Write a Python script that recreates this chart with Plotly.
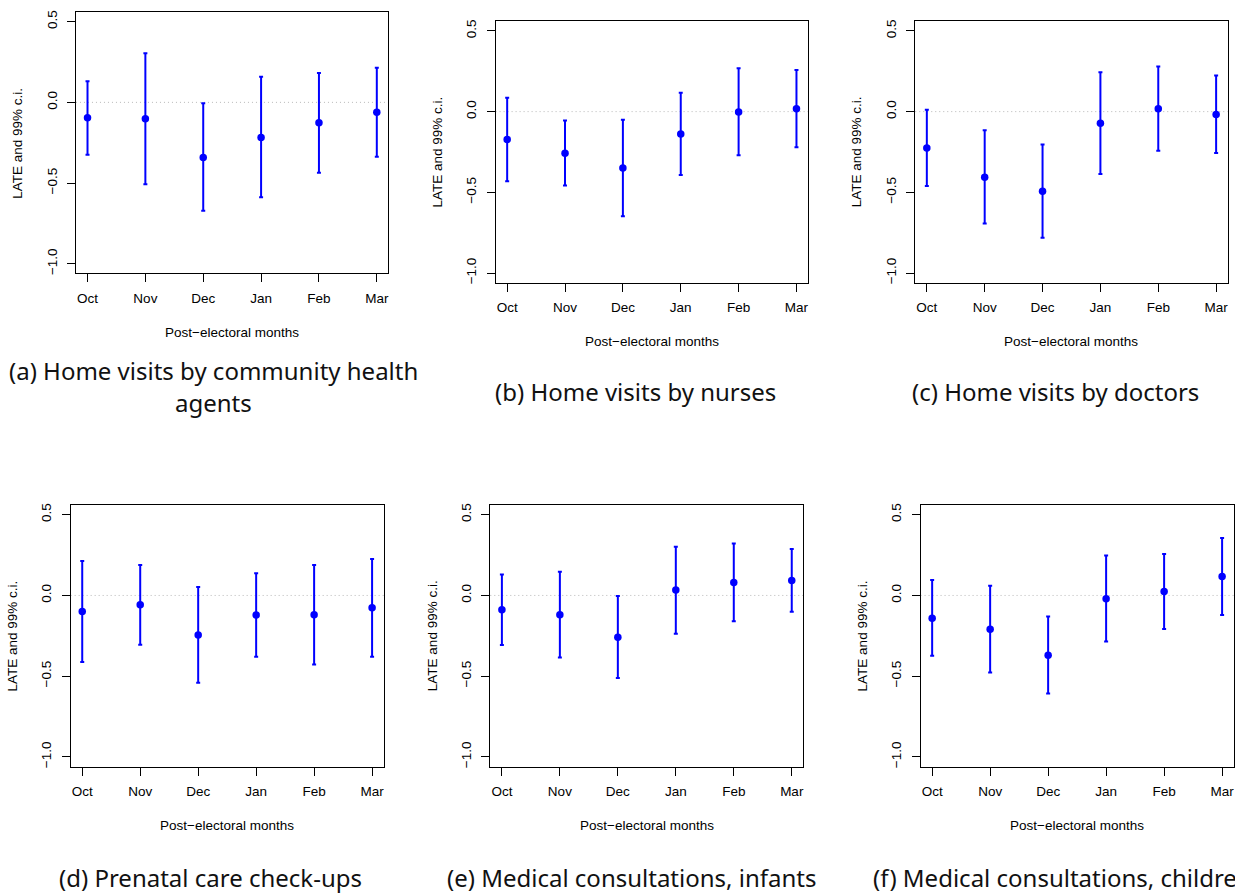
import plotly.graph_objects as go

# Post-electoral months on the horizontal axis
months = ["Oct", "Nov", "Dec", "Jan", "Feb", "Mar"]

# LATE point estimates with lower / upper bounds of the 99% confidence interval
late_a = [-0.096, -0.102, -0.341, -0.217, -0.127, -0.061]
low_a = [-0.325, -0.507, -0.672, -0.587, -0.436, -0.337]
high_a = [0.131, 0.305, -0.006, 0.158, 0.182, 0.215]

late_b = [-0.172, -0.258, -0.350, -0.139, -0.002, 0.018]
low_b = [-0.432, -0.457, -0.648, -0.393, -0.270, -0.221]
high_b = [0.086, -0.055, -0.051, 0.117, 0.268, 0.258]

late_c = [-0.225, -0.406, -0.494, -0.072, 0.018, -0.018]
low_c = [-0.461, -0.693, -0.781, -0.387, -0.242, -0.256]
high_c = [0.012, -0.115, -0.203, 0.244, 0.279, 0.223]

late_d = [-0.099, -0.058, -0.245, -0.121, -0.119, -0.076]
low_d = [-0.412, -0.305, -0.541, -0.379, -0.428, -0.379]
high_d = [0.214, 0.189, 0.053, 0.138, 0.189, 0.226]

late_e = [-0.088, -0.119, -0.259, 0.033, 0.080, 0.093]
low_e = [-0.307, -0.385, -0.512, -0.237, -0.160, -0.101]
high_e = [0.130, 0.146, -0.004, 0.302, 0.321, 0.288]

late_f = [-0.142, -0.210, -0.370, -0.021, 0.025, 0.117]
low_f = [-0.374, -0.477, -0.607, -0.286, -0.208, -0.121]
high_f = [0.095, 0.060, -0.130, 0.247, 0.257, 0.356]

captions = [
    ["(a) Home visits by community health", "agents"],
    ["(b) Home visits by nurses"],
    ["(c) Home visits by doctors"],
    ["(d) Prenatal care check-ups"],
    ["(e) Medical consultations, infants"],
    ["(f) Medical consultations, children"],
]

y_ticks = [-1.0, -0.5, 0.0, 0.5]
y_title = "LATE and 99% c.i."
x_title = "Post\u2212electoral months"

panels = [
    (late_a, low_a, high_a),
    (late_b, low_b, high_b),
    (late_c, low_c, high_c),
    (late_d, low_d, high_d),
    (late_e, low_e, high_e),
    (late_f, low_f, high_f),
]

# page geometry (pixels)
W, H = 1235, 894
# plot boxes: left, right, top, bottom
boxes = [
    (76.0, 388.7, 10.0, 272.7),
    (496.0, 808.7, 19.3, 282.0),
    (916.0, 1228.7, 19.3, 282.0),
    (70.7, 384.0, 505.3, 768.0),
    (490.7, 804.0, 505.3, 768.0),
    (921.3, 1234.7, 505.3, 768.0),
]
# caption anchors: x, y (middle of first line), x anchor
cap_pos = [
    (214.0, 370.0, "center"),
    (636.5, 391.0, "center"),
    (1056.0, 391.0, "center"),
    (210.8, 879.0, "center"),
    (632.5, 879.0, "center"),
    (872.0, 879.0, "left"),
]
CAP_LINE = 32.0

BLUE = "#0000ff"
AXIS_FONT = dict(family="Liberation Sans, Arial, sans-serif", size=13.5, color="black")
CAP_FONT = dict(family="Noto Sans, sans-serif", size=24, color="#111111")

fig = go.Figure()
annotations = []
shapes = []

for i, ((late, low, high), (l, r, t, b)) in enumerate(zip(panels, boxes)):
    n = i + 1
    xa = "x" if n == 1 else f"x{n}"
    ya = "y" if n == 1 else f"y{n}"
    plus = [hi - v for hi, v in zip(high, late)]
    minus = [v - lo for lo, v in zip(low, late)]
    fig.add_trace(go.Scatter(
        x=months, y=late, mode="markers", xaxis=xa, yaxis=ya,
        marker=dict(color=BLUE, size=7.5),
        error_y=dict(type="data", symmetric=False, array=plus, arrayminus=minus,
                     color=BLUE, thickness=2, width=2),
        showlegend=False, hoverinfo="skip",
    ))

    axis_common = dict(
        showline=True, linecolor="black", linewidth=1, mirror=True,
        ticks="outside", ticklen=8, tickcolor="black", tickwidth=1,
        showgrid=False, zeroline=False, tickfont=AXIS_FONT,
    )
    xkey = "xaxis" if n == 1 else f"xaxis{n}"
    ykey = "yaxis" if n == 1 else f"yaxis{n}"
    fig.update_layout(**{
        xkey: dict(domain=[l / W, r / W], anchor=ya, type="category",
                   categoryorder="array", categoryarray=months,
                   range=[-0.2, 5.2], ticklabelstandoff=4, **axis_common),
        ykey: dict(domain=[1 - b / H, 1 - t / H], anchor=xa,
                   range=[-1.06, 0.56], tickvals=y_ticks, tickformat=".1f",
                   tickangle=-90, ticklabelstandoff=5, **axis_common),
    })

    # dotted reference line at zero
    shapes.append(dict(type="line", xref=f"{xa} domain", yref=ya,
                       x0=0, x1=1, y0=0, y1=0,
                       line=dict(color="#b8b8b8", width=1, dash="1px,3px"), layer="below"))

    # axis titles
    annotations.append(dict(text=y_title, xref="paper", yref="paper",
                            x=(l - 58) / W, y=1 - ((t + b) / 2) / H,
                            xanchor="center", yanchor="middle", textangle=-90,
                            showarrow=False, font=AXIS_FONT))
    annotations.append(dict(text=x_title, xref="paper", yref="paper",
                            x=((l + r) / 2) / W, y=1 - (b + 59) / H,
                            xanchor="center", yanchor="middle",
                            showarrow=False, font=AXIS_FONT))

    # panel caption, one annotation per line
    cx, cy, anc = cap_pos[i]
    for k, line in enumerate(captions[i]):
        annotations.append(dict(text=line, xref="paper", yref="paper",
                                x=cx / W, y=1 - (cy + k * CAP_LINE) / H,
                                xanchor=anc, yanchor="middle",
                                showarrow=False, font=CAP_FONT))

fig.update_layout(
    width=W, height=H, margin=dict(l=0, r=0, t=0, b=0),
    paper_bgcolor="white", plot_bgcolor="white",
    annotations=annotations, shapes=shapes,
)

fig.write_html("out.html")
